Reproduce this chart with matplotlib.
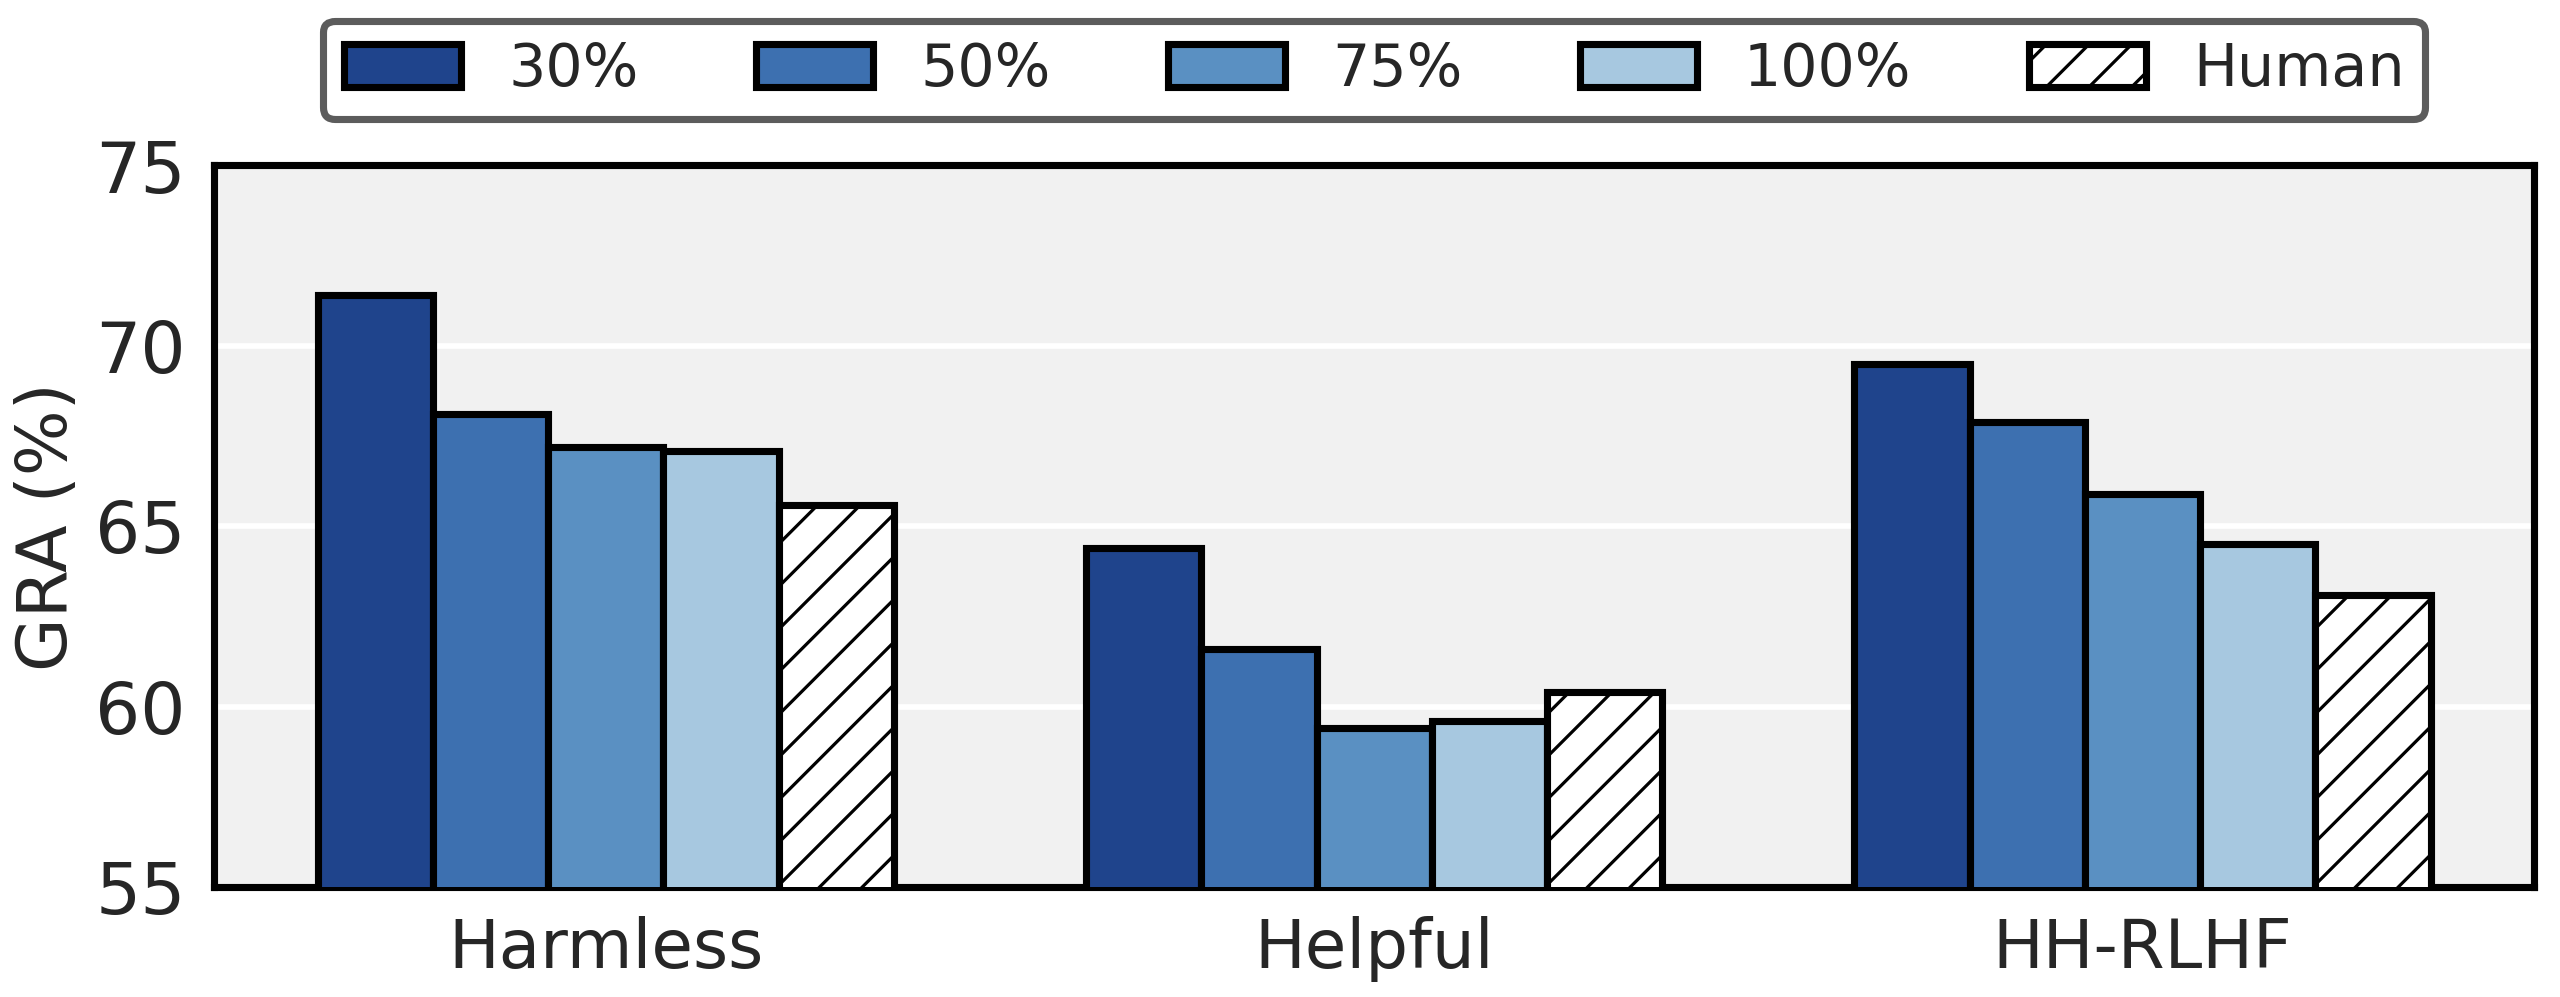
import numpy as np
import matplotlib.pyplot as plt

datasets = ["Harmless", "Helpful", "HH-RLHF"]
series = ["30%", "50%", "75%", "100%", "Human"]
gra_30 = [71.4, 64.4, 69.5]
gra_50 = [68.1, 61.6, 67.9]
gra_75 = [67.2, 59.4, 65.9]
gra_100 = [67.1, 59.6, 64.5]
gra_human = [65.6, 60.4, 63.1]

colors = ["#1f448c", "#3d70b0", "#5a90c2", "#a7c8e0", "white"]
hatches = [None, None, None, None, "//"]

plt.rcParams["hatch.linewidth"] = 0.9
plt.rcParams["font.family"] = "DejaVu Sans"

fig, ax = plt.subplots(figsize=(10, 3.895), dpi=256)
fig.subplots_adjust(left=0.0836, right=0.990, top=0.834, bottom=0.110)

x = np.arange(len(datasets))
width = 0.15
values = [gra_30, gra_50, gra_75, gra_100, gra_human]
for i, (name, vals) in enumerate(zip(series, values)):
    ax.bar(x + (i - 2) * width, vals, width, color=colors[i], edgecolor="black",
           linewidth=2, hatch=hatches[i], label=name, zorder=3)

ax.set_facecolor("#f1f1f1")
ax.grid(axis="y", color="white", linewidth=1.6, zorder=0)
ax.set_ylim(55, 75)
ax.set_yticks([55, 60, 65, 70, 75])
ax.set_xlim(-0.51, 2.51)
ax.set_xticks(x)
ax.set_xticklabels(datasets)
ax.tick_params(axis="y", length=0, labelsize=20, colors="#262626", pad=8)
ax.tick_params(axis="x", length=0, labelsize=19, colors="#262626", pad=8)
ax.set_ylabel("GRA (%)", fontsize=19.5, color="#262626")
for s in ax.spines.values():
    s.set_linewidth(2)
    s.set_color("black")

leg = ax.legend(loc="lower center", bbox_to_anchor=(0.5, 1.024), ncol=5,
                fontsize=16.5, frameon=True, fancybox=True, handlelength=2.0,
                handleheight=0.75, columnspacing=2.0, borderpad=0.35)
leg.get_frame().set_edgecolor("#333333")
leg.get_frame().set_linewidth(2)
for t in leg.get_texts():
    t.set_color("#262626")

plt.savefig("out.png", dpi=256)
